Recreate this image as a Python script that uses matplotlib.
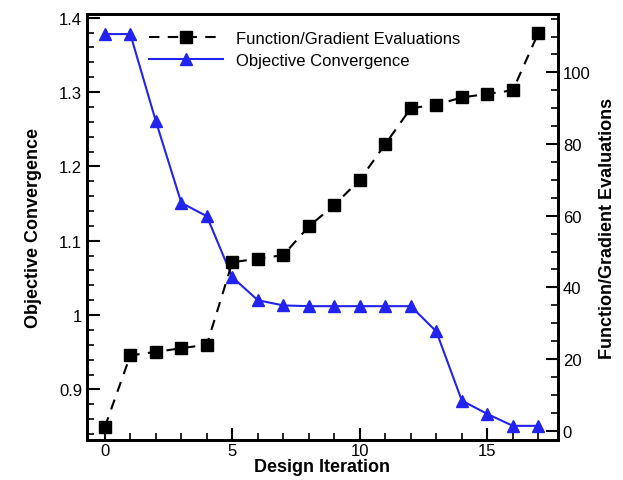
import matplotlib
matplotlib.use("Agg")
import numpy as np
from matplotlib import pyplot as plt
from matplotlib.ticker import MultipleLocator

plt.rcParams['font.family'] = ['Liberation Sans', 'DejaVu Sans']

iteration = list(range(18))
objective = [1.378, 1.378, 1.261, 1.151, 1.133, 1.051, 1.020, 1.013, 1.012, 1.012,
             1.012, 1.012, 1.012, 0.978, 0.885, 0.867, 0.851, 0.851]
evaluations = [1, 21, 22, 23, 24, 47, 48, 49, 57, 63, 70, 80, 90, 91, 93, 94, 95, 111]

fig = plt.figure(figsize=(6.23, 4.81), dpi=100)
ax1 = fig.add_axes([0.1396, 0.0832, 0.756, 0.8856])
ax2 = ax1.twinx()

l2, = ax2.plot(iteration, evaluations, color='black', linestyle=(0, (5, 4)), lw=1.5,
               marker='s', markersize=8.5, label='Function/Gradient Evaluations')
l1, = ax1.plot(iteration, objective, color='#2323f0', lw=1.5,
               marker='^', markersize=8.5, label='Objective Convergence')

ax1.set_xlim(-0.7, 17.77)
ax1.set_ylim(0.832, 1.405)
ax2.set_ylim(-2.6, 116.3)

ax1.xaxis.set_major_locator(MultipleLocator(5))
ax1.xaxis.set_minor_locator(MultipleLocator(1))
ax1.yaxis.set_major_locator(MultipleLocator(0.1))
ax1.yaxis.set_minor_locator(MultipleLocator(0.02))
ax2.yaxis.set_major_locator(MultipleLocator(20))
ax2.yaxis.set_minor_locator(MultipleLocator(5))
ax1.yaxis.set_major_formatter(plt.FuncFormatter(lambda v, p: '1' if abs(v - 1) < 1e-9 else '%g' % v))

for ax in (ax1, ax2):
    for s in ax.spines.values():
        s.set_linewidth(2)
    ax.tick_params(which='major', direction='in', length=9, width=1.5, labelsize=12)
    ax.tick_params(which='minor', direction='in', length=5, width=1.2)
ax1.tick_params(axis='x', which='both', top=False, pad=2)
ax1.tick_params(axis='y', which='both', right=False)

ax1.set_xlabel('Design Iteration', fontsize=13, fontweight='bold', labelpad=0)
ax1.set_ylabel('Objective Convergence', fontsize=13, fontweight='bold', labelpad=12)
ax2.set_ylabel('Function/Gradient Evaluations', fontsize=13, fontweight='bold', labelpad=6)

ax2.legend(handles=[l2, l1], loc='upper left', bbox_to_anchor=(0.118, 0.975),
           frameon=False, fontsize=12, handlelength=4.4, handletextpad=0.8,
           labelspacing=0.4, borderaxespad=0)

fig.savefig('out.png', dpi=100)
